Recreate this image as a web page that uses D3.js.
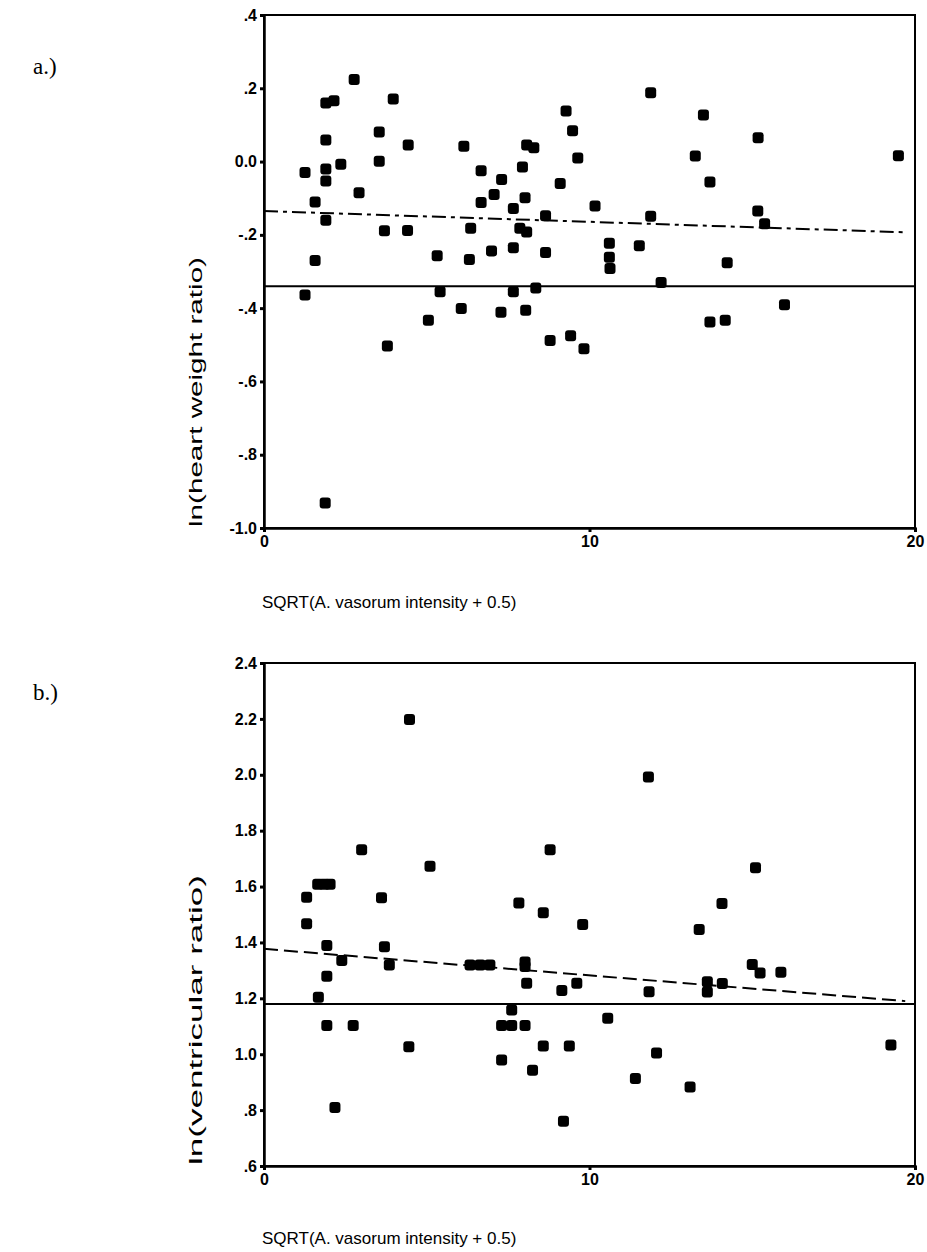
<!DOCTYPE html>
<html lang="en">
<head>
<meta charset="UTF-8">
<script src="https://d3js.org/d3.v7.min.js"></script>
<style>
  body { margin: 0; background: #fff; }
  svg text { font-family: "Liberation Sans", Arial, sans-serif; fill: #000; }
</style>
</head>
<body>
<svg width="927" height="1252" id="chart"></svg>
<script>
// panel a: ln(heart weight ratio)
const aX = [1.26,1.57,1.57,1.26,1.9,2.15,1.9,1.9,1.9,1.9,1.88,2.36,2.77,2.92,3.54,3.54,3.7,3.79,3.97,4.43,4.41,5.05,5.32,5.41,6.06,6.14,6.67,6.35,6.31,6.67,7.07,7.3,6.99,7.66,7.66,7.66,7.28,7.94,8.02,8.07,8.29,7.86,8.07,8.04,8.35,8.65,8.65,8.79,9.1,9.28,9.48,9.64,9.42,9.83,10.17,10.61,10.61,10.63,11.53,11.88,11.88,12.2,13.25,13.5,13.7,13.7,14.17,14.23,15.18,15.17,15.38,15.99,19.49];
const aY = [-0.03,-0.11,-0.27,-0.364,0.16,0.166,0.059,-0.02,-0.053,-0.16,-0.932,-0.007,0.224,-0.085,0.081,0.001,-0.189,-0.503,0.171,0.045,-0.188,-0.433,-0.257,-0.355,-0.401,0.042,-0.025,-0.182,-0.267,-0.112,-0.09,-0.049,-0.244,-0.128,-0.235,-0.355,-0.411,-0.015,-0.099,0.045,0.038,-0.182,-0.192,-0.406,-0.345,-0.148,-0.248,-0.488,-0.06,0.138,0.084,0.01,-0.475,-0.511,-0.121,-0.223,-0.261,-0.292,-0.23,0.188,-0.149,-0.33,0.015,0.127,-0.056,-0.438,-0.433,-0.276,0.065,-0.135,-0.17,-0.391,0.016];
const aTicks = [0.4,0.2,0,-0.2,-0.4,-0.6,-0.8,-1.0];
const aRef = -0.34;               // solid reference line
const aFitX = [0, 19.7], aFitY = [-0.135, -0.193];

// panel b: ln(ventricular ratio)
const bX = [4.47,3.0,5.1,8.79,11.81,15.1,1.31,1.31,1.65,1.85,2.03,1.93,1.93,1.67,1.93,2.39,2.74,2.18,3.61,3.7,3.85,4.45,6.33,6.64,6.94,7.83,8.58,8.02,8.02,8.07,7.61,7.3,7.61,8.02,7.3,8.58,8.25,9.15,9.2,9.79,9.61,10.56,9.38,12.06,11.41,13.09,11.83,13.37,14.07,13.62,13.62,14.08,15.0,15.24,15.88,19.26];
const bY = [2.198,1.732,1.673,1.732,1.992,1.667,1.562,1.467,1.608,1.608,1.608,1.389,1.279,1.204,1.103,1.335,1.103,0.809,1.56,1.385,1.319,1.027,1.319,1.319,1.319,1.541,1.506,1.33,1.314,1.254,1.158,1.103,1.103,1.103,0.979,1.029,0.943,1.228,0.76,1.464,1.254,1.129,1.029,1.004,0.913,0.883,1.224,1.446,1.539,1.259,1.223,1.253,1.321,1.291,1.293,1.033];
const bTicks = [2.4,2.2,2.0,1.8,1.6,1.4,1.2,1.0,0.8,0.6];
const bRef = 1.18;
const bFitX = [0, 19.7], bFitY = [1.377, 1.19];

const xTicks = [0, 10, 20];
const xLabel = "SQRT(A. vasorum intensity + 0.5)";

const svg = d3.select("#chart");

function fmt(v) {
    let s = d3.format(".1f")(v).replace("\u2212", "-");
    if (Math.abs(v) < 1 && v !== 0) s = s.replace("0.", ".");
    return s;
}

function drawPanel(p) {
    const g = svg.append("g");
    const x = d3.scaleLinear().domain([0, 20]).range([264, 915]);
    const y = d3.scaleLinear().domain(p.domain).range([p.bottom, p.top]);

    // frame
    g.append("rect")
        .attr("x", x(0)).attr("y", y(p.domain[1]))
        .attr("width", x(20) - x(0)).attr("height", y(p.domain[0]) - y(p.domain[1]))
        .attr("fill", "none").attr("stroke", "#000").attr("stroke-width", 2);

    const yAxis = g.append("g")
        .attr("transform", "translate(" + x(0) + ",0)")
        .call(d3.axisLeft(y).tickValues(p.ticks).tickFormat(fmt).tickSize(4).tickPadding(3));
    const xAxis = g.append("g")
        .attr("transform", "translate(0," + y(p.domain[0]) + ")")
        .call(d3.axisBottom(x).tickValues(xTicks).tickSize(4).tickPadding(4));
    [yAxis, xAxis].forEach(a => {
        a.select(".domain").attr("stroke-width", 2.5);
        a.selectAll(".tick line").attr("stroke-width", 3);
        a.selectAll("text").style("font-size", "16px").style("font-weight", "bold")
            .style("font-family", "'Liberation Sans', Arial, sans-serif");
    });

    // reference line and fit line
    g.append("line")
        .attr("x1", x(0)).attr("x2", x(20))
        .attr("y1", y(p.ref)).attr("y2", y(p.ref))
        .attr("stroke", "#000").attr("stroke-width", 2);
    g.append("line")
        .attr("x1", x(p.fitX[0])).attr("x2", x(p.fitX[1]))
        .attr("y1", y(p.fitY[0])).attr("y2", y(p.fitY[1]))
        .attr("stroke", "#000").attr("stroke-width", 2)
        .attr("stroke-dasharray", p.dash);

    // points
    g.selectAll("rect.pt")
        .data(p.xs.map((v, i) => [v, p.ys[i]]))
        .enter().append("rect")
        .attr("class", "pt")
        .attr("x", d => x(d[0]) - 5.5)
        .attr("y", d => y(d[1]) - 5.5)
        .attr("width", 11).attr("height", 11)
        .attr("rx", 3)
        .attr("fill", "#000");

    // labels (y label reads upward from the bottom of the frame)
    g.append("text")
        .attr("transform", "translate(202," + p.yLabelStart + ") rotate(-90)")
        .attr("textLength", p.yLabelLen)
        .attr("lengthAdjust", "spacingAndGlyphs")
        .style("font-size", "19px")
        .text(p.yLabel);
    g.append("text")
        .attr("x", 262).attr("y", p.xLabelY)
        .style("font-size", "17px")
        .text(xLabel);
    g.append("text")
        .attr("x", 33).attr("y", p.tagY)
        .style("font-family", "'Liberation Serif', 'Times New Roman', serif")
        .style("font-size", "23px")
        .text(p.tag);
}

drawPanel({
    xs: aX, ys: aY, domain: [-1.0, 0.4], ticks: aTicks, top: 15, bottom: 528,
    ref: aRef, fitX: aFitX, fitY: aFitY, dash: "14,5,4,5",
    yLabel: "ln(heart weight ratio)", yLabelStart: 527, yLabelLen: 270,
    xLabelY: 608, tag: "a.)", tagY: 74
});
drawPanel({
    xs: bX, ys: bY, domain: [0.6, 2.4], ticks: bTicks, top: 663, bottom: 1166,
    ref: bRef, fitX: bFitX, fitY: bFitY, dash: "14,6",
    yLabel: "ln(ventricular ratio)", yLabelStart: 1165, yLabelLen: 290,
    xLabelY: 1244, tag: "b.)", tagY: 700
});
</script>
</body>
</html>
